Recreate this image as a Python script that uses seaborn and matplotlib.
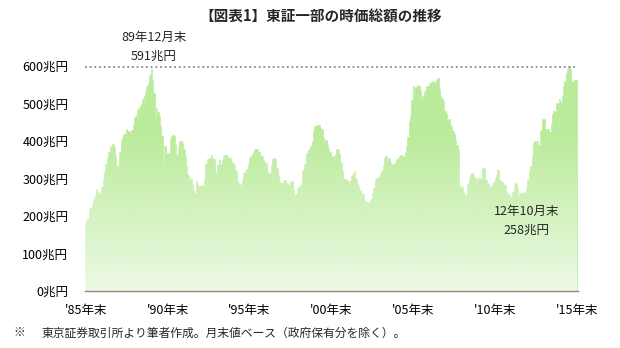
import numpy as np
import pandas as pd
import matplotlib
matplotlib.use("Agg")
import matplotlib.pyplot as plt
import seaborn as sns

# Monthly market capitalisation, TSE 1st section (trillion yen), Dec 1985 - Nov 2015
v1985 = [182]
v1986 = [190, 195, 218, 222, 231, 245, 255, 271, 265, 255, 262, 277]
v1987 = [300, 318, 340, 355, 372, 387, 378, 391, 385, 360, 333, 336]
v1988 = [370, 404, 409, 418, 420, 431, 428, 425, 418, 430, 444, 463]
v1989 = [470, 484, 488, 493, 500, 511, 520, 530, 547, 555, 575, 591]
v1990 = [564, 529, 458, 489, 478, 467, 440, 413, 333, 387, 369, 365]
v1991 = [369, 405, 413, 415, 413, 391, 364, 385, 400, 400, 396, 378]
v1992 = [360, 333, 310, 293, 300, 285, 270, 262, 293, 285, 280, 280]
v1993 = [282, 280, 300, 340, 351, 351, 355, 364, 356, 352, 318, 316]
v1994 = [335, 350, 340, 350, 364, 364, 362, 360, 356, 355, 347, 342]
v1995 = [335, 320, 293, 289, 285, 276, 300, 316, 320, 325, 340, 356]
v1996 = [360, 365, 370, 378, 378, 380, 370, 364, 360, 350, 345, 342]
v1997 = [320, 316, 316, 335, 351, 355, 351, 328, 310, 293, 288, 280]
v1998 = [293, 295, 289, 287, 284, 290, 293, 270, 253, 258, 276, 276]
v1999 = [280, 285, 324, 340, 335, 369, 375, 380, 387, 400, 427, 440]
v2000 = [440, 444, 444, 435, 431, 410, 396, 404, 390, 378, 370, 352]
v2001 = [360, 350, 365, 378, 375, 365, 342, 320, 298, 300, 295, 293]
v2002 = [285, 293, 310, 315, 320, 298, 285, 280, 270, 262, 258, 244]
v2003 = [240, 238, 235, 231, 245, 262, 275, 298, 300, 305, 305, 311]
v2004 = [320, 335, 356, 360, 345, 356, 345, 338, 340, 338, 345, 353]
v2005 = [355, 360, 364, 355, 360, 370, 387, 410, 453, 470, 510, 547]
v2006 = [540, 545, 550, 548, 535, 516, 520, 530, 535, 547, 545, 556]
v2007 = [558, 560, 558, 555, 564, 569, 540, 520, 515, 507, 480, 475]
v2008 = [450, 458, 444, 440, 427, 420, 404, 390, 380, 280, 271, 278]
v2009 = [262, 253, 255, 285, 302, 310, 316, 310, 302, 300, 285, 302]
v2010 = [300, 300, 329, 325, 295, 289, 285, 275, 284, 280, 290, 302]
v2011 = [310, 324, 295, 293, 290, 288, 284, 265, 258, 260, 251, 251]
v2012 = [265, 285, 289, 278, 253, 262, 258, 262, 265, 258, 275, 296]
v2013 = [320, 333, 364, 396, 400, 390, 400, 390, 427, 430, 458, 458]
v2014 = [431, 430, 431, 425, 445, 471, 480, 477, 502, 500, 511, 505]
v2015 = [520, 547, 560, 582, 591, 600, 591, 560, 555, 564, 564]

x_tick_labels = ["'85年末", "'90年末", "'95年末", "'00年末", "'05年末", "'10年末", "'15年末"]
y_ticks = [0, 100, 200, 300, 400, 500, 600]
title = "【図表1】東証一部の時価総額の推移"
note_mark = "※"
note = "東京証券取引所より筆者作成。月末値ベース（政府保有分を除く）。"
ann_peak = ["89年12月末", "591兆円"]
ann_low = ["12年10月末", "258兆円"]
peak_value = 598

values = (v1985 + v1986 + v1987 + v1988 + v1989 + v1990 + v1991 + v1992 + v1993
          + v1994 + v1995 + v1996 + v1997 + v1998 + v1999 + v2000 + v2001 + v2002
          + v2003 + v2004 + v2005 + v2006 + v2007 + v2008 + v2009 + v2010 + v2011
          + v2012 + v2013 + v2014 + v2015)
months = pd.period_range("1985-12", periods=len(values), freq="M").astype(str)
df = pd.DataFrame({"month": months, "cap": values})

sns.set_style("white")
plt.rcParams["font.family"] = ["Noto Sans CJK JP", "DejaVu Sans"]

W, H = 620, 348
fig = plt.figure(figsize=(W / 100, H / 100), dpi=100)
ax = fig.add_axes([85 / W, (H - 291) / H, (578 - 85) / W, (291 - 66) / H])

bar_color = "#b8eb98"
sns.barplot(data=df, x="month", y="cap", color=bar_color, width=1.0,
            saturation=1, ax=ax, zorder=2)
for p in ax.patches:
    p.set_edgecolor(bar_color)
    p.set_linewidth(0.4)

# white fade toward the bottom (background is white)
n = 256
yy = np.linspace(0, 600, n)
alpha = np.clip(0.74 * (1 - yy / 420), 0, None)
img = np.ones((n, 1, 4))
img[:, 0, 3] = alpha
nb = len(values)
ax.imshow(img, extent=[-0.5, nb - 0.5, 0, 600], origin="lower", aspect="auto",
          interpolation="bilinear", zorder=3)

ax.set_xlim(-0.5, nb + 0.5)
ax.set_ylim(0, 600)

# dotted reference line at the top
ax.axhline(peak_value, color="#8a8a8a", ls=(0, (1, 1.6)), lw=1.3, zorder=4, clip_on=False)

ax.set_xticks(np.arange(0, nb + 1, 60))
ax.set_xticklabels(x_tick_labels, fontsize=9)
ax.set_xticks(np.arange(0, nb + 1, 12), minor=True)
ax.set_yticks(y_ticks)
ax.set_yticklabels([f"{v}兆円" for v in y_ticks], fontsize=9)
ax.set_xlabel("")
ax.set_ylabel("")

for s in ["top", "right", "left"]:
    ax.spines[s].set_visible(False)
ax.spines["bottom"].set_color("#8a8a8a")
ax.spines["bottom"].set_linewidth(1.0)
ax.spines["bottom"].set_zorder(5)
ax.tick_params(axis="x", which="major", direction="inout", length=7, width=1,
               color="#8a8a8a", pad=6, labelcolor="black")
ax.tick_params(axis="x", which="minor", direction="in", length=3, width=1,
               color="#8a8a8a")
ax.tick_params(axis="y", length=0, pad=12, labelcolor="black")

# annotations
ax.text(50, 675, ann_peak[0], ha="center", va="center", fontsize=9, clip_on=False)
ax.text(50, 627, ann_peak[1], ha="center", va="center", fontsize=9, clip_on=False)
ax.text(323, 211, ann_low[0], ha="center", va="center", fontsize=9, zorder=6)
ax.text(323, 163, ann_low[1], ha="center", va="center", fontsize=9, zorder=6)

fig.text(321 / W, 1 - 16 / H, title, ha="center", va="center", fontsize=10.5,
         fontweight="bold")
fig.text(13 / W, 1 - 333 / H, note_mark, ha="left", va="center", fontsize=8.5)
fig.text(42 / W, 1 - 333 / H, note, ha="left", va="center", fontsize=8.5)

fig.savefig("out.png", dpi=100)
